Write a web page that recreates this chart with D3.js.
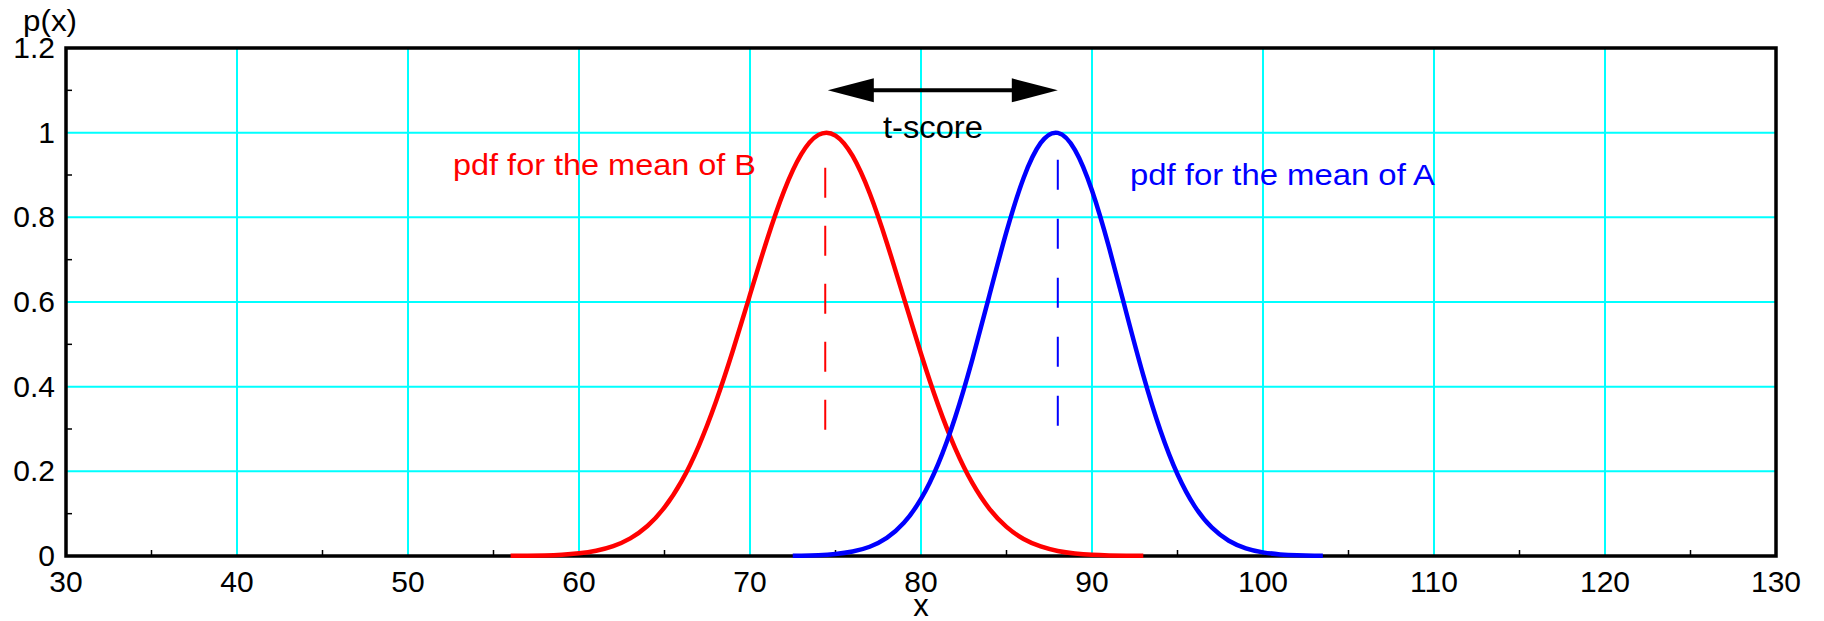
<!DOCTYPE html>
<html>
<head>
<meta charset="utf-8">
<script src="https://cdn.jsdelivr.net/npm/d3@7"></script>
<style>
  body { margin: 0; background: #fff; }
  text { font-family: "Liberation Sans", Arial, Helvetica, sans-serif; }
</style>
</head>
<body>
<div id="chart"></div>
<script>
// Size of the picture and the plot box inside it
const width = 1824;
const height = 621;
const margin = {top: 48, right: 48, bottom: 65, left: 66};

// Tick values
const xTicks = [30, 40, 50, 60, 70, 80, 90, 100, 110, 120, 130];
const xMinor = [35, 45, 55, 65, 75, 85, 95, 105, 115, 125];
const yTicks = [0, 0.2, 0.4, 0.6, 0.8, 1, 1.2];
const yMinor = [0.1, 0.3, 0.5, 0.7, 0.9, 1.1];

// pdf for the mean of B (red)
const bX = [56, 57, 58, 59, 60, 61, 62, 63, 64, 65, 66, 67, 68, 69, 70, 71, 72, 73, 74,
            75, 76, 77, 78, 79, 80, 81, 82, 83, 84, 85, 86, 87, 88, 89, 90, 91, 92, 93];
const bY = [0.0003, 0.0006, 0.0014, 0.0031, 0.0064, 0.0125, 0.0234, 0.0417, 0.0708, 0.1146,
            0.1767, 0.2598, 0.3638, 0.4854, 0.6172, 0.7477, 0.8630, 0.9491, 0.9947,
            0.9932, 0.9450, 0.8568, 0.7401, 0.6091, 0.4777, 0.3570, 0.2542, 0.1725, 0.1115,
            0.0687, 0.0403, 0.0226, 0.0120, 0.0061, 0.0029, 0.0014, 0.0006, 0.0003];

// pdf for the mean of A (blue)
const aX = [72.5, 73, 74, 75, 76, 77, 78, 79, 80, 81, 82, 83, 84, 85, 86, 87, 88, 89, 90,
            91, 92, 93, 94, 95, 96, 97, 98, 99, 100, 101, 102, 103, 103.5];
const aY = [0.0005, 0.0008, 0.0020, 0.0047, 0.0105, 0.0218, 0.0427, 0.0784, 0.1347, 0.2171,
            0.3279, 0.4641, 0.6159, 0.7660, 0.8930, 0.9758, 0.9995, 0.9595, 0.8634, 0.7283,
            0.5758, 0.4267, 0.2964, 0.1930, 0.1178, 0.0674, 0.0361, 0.0181, 0.0086, 0.0038,
            0.0016, 0.0006, 0.0004];

// Means (dashed markers) and the t-score arrow
const meanB = {x: 74.4, y0: 0.917, y1: 0.281};
const meanA = {x: 88.0, y0: 0.936, y1: 0.298};
const arrow = {from: 74.55, to: 88.0, y: 1.1};

const x = d3.scaleLinear().domain([30, 130]).range([margin.left, width - margin.right]);
const y = d3.scaleLinear().domain([0, 1.2]).range([height - margin.bottom, margin.top]);

const svg = d3.select("#chart").append("svg")
    .attr("width", width)
    .attr("height", height);

// grid
svg.append("g")
  .selectAll("line")
  .data(xTicks.slice(1, -1))
  .join("line")
    .attr("x1", d => x(d)).attr("x2", d => x(d))
    .attr("y1", y(0)).attr("y2", y(1.2))
    .attr("stroke", "#00ffff").attr("stroke-width", 2);

svg.append("g")
  .selectAll("line")
  .data(yTicks.slice(1, -1))
  .join("line")
    .attr("x1", x(30)).attr("x2", x(130))
    .attr("y1", d => y(d)).attr("y2", d => y(d))
    .attr("stroke", "#00ffff").attr("stroke-width", 2);

// minor ticks pointing into the box
svg.append("g")
  .selectAll("line")
  .data(xMinor)
  .join("line")
    .attr("x1", d => x(d)).attr("x2", d => x(d))
    .attr("y1", y(0)).attr("y2", y(0) - 6)
    .attr("stroke", "#000").attr("stroke-width", 1.5);

svg.append("g")
  .selectAll("line")
  .data(yMinor)
  .join("line")
    .attr("x1", x(30)).attr("x2", x(30) + 6)
    .attr("y1", d => y(d)).attr("y2", d => y(d))
    .attr("stroke", "#000").attr("stroke-width", 1.5);

// frame
svg.append("rect")
    .attr("x", x(30)).attr("y", y(1.2))
    .attr("width", x(130) - x(30)).attr("height", y(0) - y(1.2))
    .attr("fill", "none").attr("stroke", "#000").attr("stroke-width", 3.5);

// tick labels
svg.append("g")
  .selectAll("text")
  .data(xTicks)
  .join("text")
    .attr("x", d => x(d)).attr("y", y(0) + 36)
    .attr("text-anchor", "middle")
    .attr("font-size", 30)
    .text(d => d);

svg.append("g")
  .selectAll("text")
  .data(yTicks)
  .join("text")
    .attr("x", x(30) - 11).attr("y", d => y(d) + 10)
    .attr("text-anchor", "end")
    .attr("font-size", 30)
    .text(d => d);

// axis titles
svg.append("text")
    .attr("x", x(80)).attr("y", 616)
    .attr("text-anchor", "middle").attr("font-size", 31)
    .text("x");

svg.append("text")
    .attr("x", 23).attr("y", 31)
    .attr("font-size", 30)
    .attr("textLength", 54).attr("lengthAdjust", "spacingAndGlyphs")
    .text("p(x)");

// dashed mean markers
svg.append("line")
    .attr("x1", x(meanB.x)).attr("x2", x(meanB.x))
    .attr("y1", y(meanB.y0)).attr("y2", y(meanB.y1))
    .attr("stroke", "#ff0000").attr("stroke-width", 2)
    .attr("stroke-dasharray", "30,28");

svg.append("line")
    .attr("x1", x(meanA.x)).attr("x2", x(meanA.x))
    .attr("y1", y(meanA.y0)).attr("y2", y(meanA.y1))
    .attr("stroke", "#0000ff").attr("stroke-width", 2)
    .attr("stroke-dasharray", "30,29");

// curves
const line = d3.line()
    .x(d => x(d[0]))
    .y(d => y(d[1]))
    .curve(d3.curveNatural);

svg.append("path")
    .datum(bX.map((v, i) => [v, bY[i]]))
    .attr("d", line)
    .attr("fill", "none").attr("stroke", "#ff0000").attr("stroke-width", 4.5);

svg.append("path")
    .datum(aX.map((v, i) => [v, aY[i]]))
    .attr("d", line)
    .attr("fill", "none").attr("stroke", "#0000ff").attr("stroke-width", 4.5);

// t-score double arrow
const ax0 = x(arrow.from), ax1 = x(arrow.to), ay = y(arrow.y);
const headLen = 46, headHalf = 12;

svg.append("line")
    .attr("x1", ax0 + headLen - 2).attr("x2", ax1 - headLen + 2)
    .attr("y1", ay).attr("y2", ay)
    .attr("stroke", "#000").attr("stroke-width", 4);

svg.append("path")
    .attr("d", `M${ax0},${ay}L${ax0 + headLen},${ay - headHalf}L${ax0 + headLen},${ay + headHalf}Z`)
    .attr("fill", "#000");

svg.append("path")
    .attr("d", `M${ax1},${ay}L${ax1 - headLen},${ay - headHalf}L${ax1 - headLen},${ay + headHalf}Z`)
    .attr("fill", "#000");

svg.append("text")
    .attr("x", x(80.7)).attr("y", 138)
    .attr("text-anchor", "middle").attr("font-size", 31)
    .attr("textLength", 100).attr("lengthAdjust", "spacingAndGlyphs")
    .text("t-score");

// curve labels
svg.append("text")
    .attr("x", 453).attr("y", 175)
    .attr("font-size", 30).attr("fill", "#ff0000")
    .attr("textLength", 303).attr("lengthAdjust", "spacingAndGlyphs")
    .text("pdf for the mean of B");

svg.append("text")
    .attr("x", 1130).attr("y", 185)
    .attr("font-size", 30).attr("fill", "#0000ff")
    .attr("textLength", 305).attr("lengthAdjust", "spacingAndGlyphs")
    .text("pdf for the mean of A");
</script>
</body>
</html>
